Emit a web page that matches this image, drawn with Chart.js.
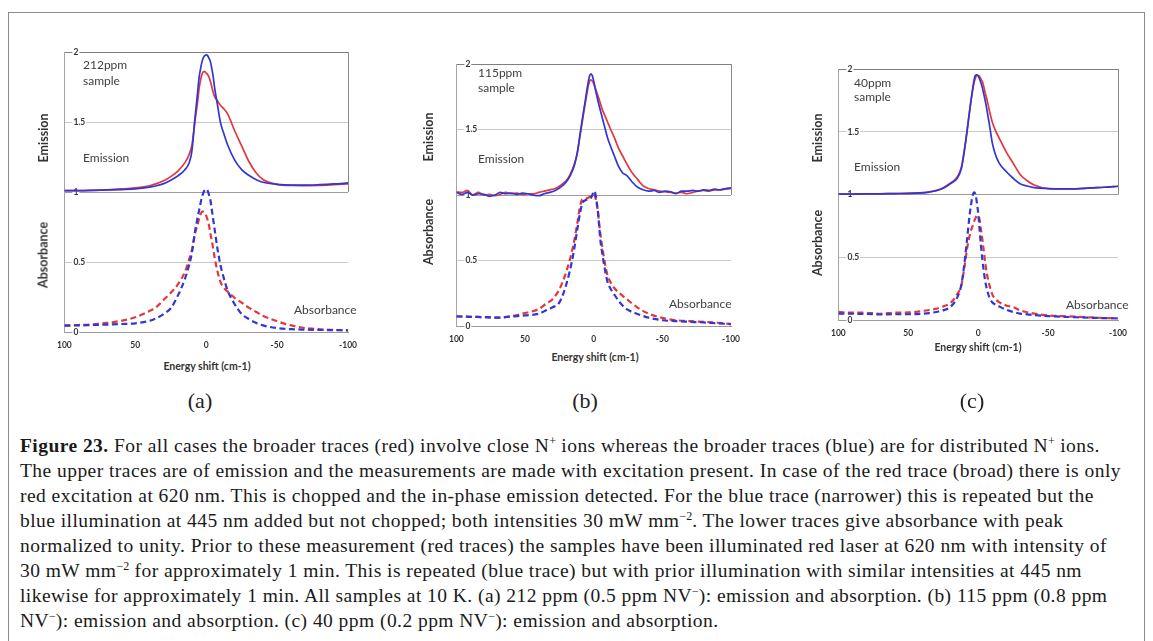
<!DOCTYPE html>
<html>
<head>
<meta charset="utf-8">
<script src="https://cdn.jsdelivr.net/npm/chart.js@4.4.1/dist/chart.umd.min.js"></script>
<style>
  html, body { margin:0; padding:0; background:#fff; }
  body { width:1153px; height:641px; position:relative; overflow:hidden; font-family: Lato, "Open Sans", sans-serif; }
  .frame { position:absolute; left:8px; top:12px; width:1137px; height:700px; border:1px solid #8c8c8c; box-sizing:border-box; }
  .pc { position:absolute; }
  .t { position:absolute; white-space:nowrap; color:#404040; font-size:12px; line-height:14px; transform:translateY(-50%); }
  .yt { position:absolute; white-space:nowrap; color:#333; font-size:12.5px; font-weight:bold; transform:translate(-50%,-50%) rotate(-90deg); }
  .xt { position:absolute; white-space:nowrap; color:#333; font-size:10.5px; font-weight:bold; transform:translate(-50%,-50%); }
  .lab { position:absolute; white-space:nowrap; color:#222; font-family:"Liberation Serif", serif; font-size:22px; transform:translate(-50%,-50%); }
  .cap { position:absolute; left:20px; top:433px; white-space:nowrap; font-family:"Liberation Serif", serif; font-size:19.5px; letter-spacing:0.45px; line-height:25px; color:#1a1a1a; }
  .cap sup { font-size:12px; line-height:0; vertical-align:7px; letter-spacing:0; }
</style>
</head>
<body>
<div class="frame"></div>

<div class="pc" id="pa"><canvas id="ca"></canvas></div>
<div class="pc" id="pb"><canvas id="cb"></canvas></div>
<div class="pc" id="pcc"><canvas id="cc"></canvas></div>

<!-- panel (a) texts -->
<div class="t" style="left:83px;top:65px">212ppm</div>
<div class="t" style="left:83px;top:81px">sample</div>
<div class="t" style="left:83px;top:158px">Emission</div>
<div class="t" style="left:294px;top:310px">Absorbance</div>
<div class="yt" style="left:43px;top:138px">Emission</div>
<div class="yt" style="left:43px;top:255px">Absorbance</div>
<div class="xt" style="left:207px;top:366px">Energy shift (cm-1)</div>
<div class="lab" style="left:200px;top:401px">(a)</div>

<!-- panel (b) texts -->
<div class="t" style="left:478px;top:73px">115ppm</div>
<div class="t" style="left:478px;top:88px">sample</div>
<div class="t" style="left:478px;top:159px">Emission</div>
<div class="t" style="left:669px;top:304px">Absorbance</div>
<div class="yt" style="left:428px;top:137px">Emission</div>
<div class="yt" style="left:428px;top:232px">Absorbance</div>
<div class="xt" style="left:595px;top:357px">Energy shift (cm-1)</div>
<div class="lab" style="left:585px;top:401px">(b)</div>

<!-- panel (c) texts -->
<div class="t" style="left:854px;top:83px">40ppm</div>
<div class="t" style="left:854px;top:97px">sample</div>
<div class="t" style="left:854px;top:167px">Emission</div>
<div class="t" style="left:1066px;top:305px">Absorbance</div>
<div class="yt" style="left:817px;top:138px">Emission</div>
<div class="yt" style="left:817px;top:243px">Absorbance</div>
<div class="xt" style="left:978px;top:347px">Energy shift (cm-1)</div>
<div class="lab" style="left:972px;top:401px">(c)</div>

<div class="cap"><b>Figure 23.</b> For all cases the broader traces (red) involve close N<sup>+</sup> ions whereas the broader traces (blue) are for distributed N<sup>+</sup> ions.<br>The upper traces are of emission and the measurements are made with excitation present. In case of the red trace (broad) there is only<br>red excitation at 620 nm. This is chopped and the in-phase emission detected. For the blue trace (narrower) this is repeated but the<br>blue illumination at 445 nm added but not chopped; both intensities 30 mW mm<sup>−2</sup>. The lower traces give absorbance with peak<br>normalized to unity. Prior to these measurement (red traces) the samples have been illuminated red laser at 620 nm with intensity of<br>30 mW mm<sup>−2</sup> for approximately 1 min. This is repeated (blue trace) but with prior illumination with similar intensities at 445 nm<br>likewise for approximately 1 min. All samples at 10 K. (a) 212 ppm (0.5 ppm NV<sup>−</sup>): emission and absorption. (b) 115 ppm (0.8 ppm<br>NV<sup>−</sup>): emission and absorption. (c) 40 ppm (0.2 ppm NV<sup>−</sup>): emission and absorption.</div>

<script>
// ---------------- data ----------------
// energy shift (cm-1) sample positions
const X = [100,90,80,70,60,50,40,35,30,25,20,15,12,10,8,6,5,4,3,2,1,0,-1,-2,-3,-4,-5,-6,-8,-10,-12,-15,-20,-25,-30,-35,-40,-50,-60,-70,-80,-90,-100];
// finer positions for the noisy emission traces of panel (b)
const X_B_EM = [100,96,92,88,84,80,76,72,68,64,60,56,52,48,44,40,36,32,28,24,20,17,14,12,10,8,6,5,4,3,2,1,0,-1,-2,-4,-6,-8,-10,-12,-15,-18,-21,-24,-28,-32,-36,-40,-44,-48,-52,-56,-60,-64,-68,-72,-76,-80,-84,-88,-92,-96,-100];

// panel (a) 212ppm
const A_EM_BLUE = [1.01,1.01,1.012,1.015,1.018,1.022,1.035,1.045,1.06,1.085,1.116,1.16,1.21,1.30,1.52,1.72,1.82,1.88,1.93,1.96,1.975,1.98,1.975,1.955,1.93,1.88,1.82,1.74,1.62,1.50,1.43,1.34,1.23,1.16,1.12,1.09,1.07,1.055,1.05,1.05,1.053,1.058,1.065];
const A_EM_RED  = [1.01,1.01,1.012,1.016,1.022,1.03,1.045,1.06,1.08,1.11,1.15,1.21,1.27,1.34,1.50,1.65,1.74,1.80,1.84,1.86,1.86,1.85,1.84,1.82,1.79,1.75,1.71,1.68,1.65,1.62,1.60,1.56,1.44,1.33,1.22,1.14,1.09,1.055,1.047,1.046,1.047,1.052,1.058];
const A_AB_BLUE = [0.045,0.047,0.05,0.053,0.057,0.062,0.08,0.10,0.128,0.17,0.26,0.38,0.48,0.57,0.71,0.82,0.87,0.92,0.965,0.995,1.015,1.02,1.01,0.98,0.94,0.87,0.80,0.73,0.59,0.48,0.40,0.30,0.20,0.128,0.093,0.066,0.047,0.028,0.02,0.017,0.015,0.013,0.012];
const A_AB_RED  = [0.047,0.05,0.055,0.065,0.08,0.105,0.15,0.18,0.23,0.28,0.34,0.43,0.52,0.59,0.70,0.77,0.81,0.84,0.86,0.86,0.85,0.83,0.80,0.76,0.70,0.65,0.59,0.53,0.43,0.36,0.32,0.29,0.244,0.21,0.174,0.145,0.116,0.077,0.047,0.028,0.019,0.015,0.012];

// panel (b) 115ppm
const B_EM_BLUE = [1.02,1.005,1.02,1.0,1.01,1.005,0.99,1.0,1.02,1.01,1.015,1.005,1.015,1.01,1.0,0.995,1.01,1.02,1.035,1.06,1.10,1.15,1.23,1.32,1.46,1.60,1.73,1.80,1.86,1.91,1.925,1.91,1.87,1.82,1.77,1.68,1.60,1.52,1.44,1.38,1.30,1.22,1.17,1.15,1.10,1.06,1.04,1.03,1.035,1.02,1.03,1.025,1.01,1.03,1.03,1.035,1.03,1.04,1.035,1.045,1.04,1.05,1.055];
const B_EM_RED  = [1.025,1.02,1.035,1.0,1.02,1.0,1.005,0.995,1.005,1.02,1.01,1.015,1.005,1.01,1.01,1.02,1.03,1.04,1.05,1.075,1.11,1.16,1.24,1.32,1.45,1.58,1.71,1.77,1.83,1.87,1.88,1.87,1.85,1.82,1.79,1.73,1.66,1.61,1.56,1.51,1.44,1.36,1.30,1.24,1.17,1.12,1.07,1.05,1.04,1.03,1.025,1.02,1.015,1.02,1.01,1.02,1.03,1.035,1.03,1.04,1.04,1.045,1.05];
const B_AB_BLUE = [0.074,0.07,0.068,0.064,0.072,0.081,0.094,0.118,0.143,0.18,0.316,0.54,0.735,0.86,0.944,0.96,0.965,0.97,0.975,0.98,1.0,1.03,1.02,0.96,0.88,0.76,0.64,0.57,0.44,0.34,0.29,0.24,0.168,0.123,0.099,0.08,0.064,0.044,0.037,0.032,0.027,0.02,0.015];
const B_AB_RED  = [0.074,0.07,0.068,0.064,0.076,0.099,0.13,0.168,0.205,0.28,0.414,0.61,0.78,0.91,0.97,0.972,0.975,0.98,0.985,0.994,1.0,1.006,0.99,0.94,0.88,0.78,0.69,0.62,0.49,0.39,0.34,0.29,0.24,0.197,0.155,0.12,0.094,0.062,0.044,0.037,0.032,0.025,0.015];

// panel (c) 40ppm
const C_EM_BLUE = [1.004,1.004,1.005,1.006,1.008,1.009,1.014,1.02,1.03,1.05,1.086,1.13,1.21,1.34,1.50,1.68,1.76,1.84,1.91,1.95,1.955,1.945,1.92,1.89,1.85,1.80,1.75,1.69,1.56,1.416,1.33,1.25,1.184,1.13,1.086,1.068,1.055,1.048,1.045,1.046,1.053,1.058,1.066];
const C_EM_RED  = [1.004,1.004,1.005,1.006,1.008,1.01,1.016,1.022,1.033,1.055,1.09,1.14,1.22,1.35,1.51,1.68,1.76,1.83,1.89,1.93,1.95,1.95,1.94,1.92,1.90,1.86,1.81,1.77,1.67,1.58,1.52,1.45,1.34,1.25,1.16,1.11,1.076,1.048,1.045,1.046,1.053,1.058,1.066];
const C_AB_BLUE = [0.051,0.05,0.048,0.044,0.046,0.046,0.05,0.055,0.064,0.077,0.103,0.18,0.283,0.44,0.64,0.85,0.93,0.99,1.017,1.004,0.94,0.85,0.72,0.59,0.48,0.386,0.31,0.257,0.18,0.142,0.125,0.108,0.082,0.064,0.051,0.045,0.039,0.031,0.026,0.022,0.018,0.015,0.013];
const C_AB_RED  = [0.064,0.058,0.058,0.05,0.058,0.06,0.072,0.08,0.09,0.108,0.134,0.206,0.28,0.41,0.566,0.68,0.72,0.75,0.785,0.81,0.83,0.83,0.80,0.72,0.64,0.55,0.46,0.38,0.28,0.206,0.17,0.142,0.116,0.103,0.077,0.062,0.051,0.036,0.031,0.026,0.021,0.016,0.013];

const X_TICK_MIN = -100, X_TICK_MAX = 100, X_STEP = 50;
const Y_MIN = 0, Y_MAX = 2, Y_STEP = 0.5;

// ---------------- drawing ----------------
const BLUE = '#3136d4', RED = '#e2383d';
Chart.defaults.font.family = 'Lato, "Open Sans", sans-serif';

function pts(xs, ys) { return xs.map((x, i) => ({ x: x, y: ys[i] })); }

function solid(xs, ys, color) {
  return { data: pts(xs, ys), borderColor: color, borderWidth: 1.7, pointRadius: 0,
           cubicInterpolationMode: 'monotone', fill: false };
}
function dashed(xs, ys, color) {
  return { data: pts(xs, ys), borderColor: color, borderWidth: 2.2, borderDash: [6, 3.5], pointRadius: 0,
           cubicInterpolationMode: 'monotone', fill: false };
}

const emissionBox = {
  id: 'emissionBox',
  afterDraw(chart) {
    const y = chart.scales.y, a = chart.chartArea, ctx = chart.ctx;
    ctx.save();
    ctx.strokeStyle = '#8a8a8a';
    ctx.lineWidth = 1;
    ctx.beginPath();
    ctx.moveTo(Math.round(a.right) + 0.5, y.getPixelForValue(2));
    ctx.lineTo(Math.round(a.right) + 0.5, y.getPixelForValue(1));
    ctx.stroke();
    ctx.restore();
  }
};

function makePanel(divId, canvasId, geo, datasets) {
  const pad = 6, xh = 22;
  const div = document.getElementById(divId);
  const w = geo.R - geo.L + 2 * pad, h = geo.B - geo.T + pad + xh;
  div.style.left = (geo.L - pad) + 'px';
  div.style.top = (geo.T - pad) + 'px';
  div.style.width = w + 'px';
  div.style.height = h + 'px';
  const cv = document.getElementById(canvasId);
  cv.width = w; cv.height = h;
  cv.style.width = w + 'px'; cv.style.height = h + 'px';
  new Chart(cv, {
    type: 'line',
    data: { datasets: datasets },
    options: {
      responsive: false, animation: false, devicePixelRatio: 1,
      layout: { padding: { left: pad, right: pad, top: pad, bottom: 0 } },
      plugins: { legend: { display: false }, tooltip: { enabled: false } },
      scales: {
        x: {
          type: 'linear', reverse: true, min: X_TICK_MIN, max: X_TICK_MAX,
          afterFit: s => { s.height = xh; },
          grid: { display: false, drawTicks: false },
          border: { display: true, color: '#9a9a9a', width: 1 },
          ticks: { stepSize: X_STEP, padding: 8, color: '#333', font: { size: 8.5, weight: 'bold' }, maxRotation: 0 }
        },
        y: {
          min: Y_MIN, max: Y_MAX,
          afterFit: s => { s.width = 0; },
          grid: {
            drawTicks: false,
            color: c => {
              const v = c.tick ? c.tick.value : null;
              if (v === 2) return '#7f7f7f';
              if (v === 1) return '#9c9c9c';
              if (v === 0) return 'rgba(0,0,0,0)';
              return '#c9c9c9';
            },
            lineWidth: 1
          },
          border: { display: true, color: '#a5a5a5', width: 1 },
          ticks: {
            stepSize: Y_STEP, mirror: true, padding: 9, color: '#333',
            font: { size: 8.5, weight: 'bold' },
            showLabelBackdrop: true, backdropColor: '#ffffff', backdropPadding: { top: 0, bottom: 0, left: 1, right: 1 },
            callback: v => String(v)
          }
        }
      }
    },
    plugins: [emissionBox]
  });
}

makePanel('pa', 'ca', { L: 55, R: 359, T: 44, B: 332 }, [
  solid(X, A_EM_BLUE, BLUE), solid(X, A_EM_RED, RED),
  dashed(X, A_AB_BLUE, BLUE), dashed(X, A_AB_RED, RED)
]);
makePanel('pb', 'cb', { L: 447, R: 742, T: 56, B: 326 }, [
  solid(X_B_EM, B_EM_BLUE, BLUE), solid(X_B_EM, B_EM_RED, RED),
  dashed(X, B_AB_BLUE, BLUE), dashed(X, B_AB_RED, RED)
]);
makePanel('pcc', 'cc', { L: 829, R: 1129, T: 61, B: 320 }, [
  solid(X, C_EM_BLUE, BLUE), solid(X, C_EM_RED, RED),
  dashed(X, C_AB_BLUE, BLUE), dashed(X, C_AB_RED, RED)
]);
</script>
</body>
</html>
